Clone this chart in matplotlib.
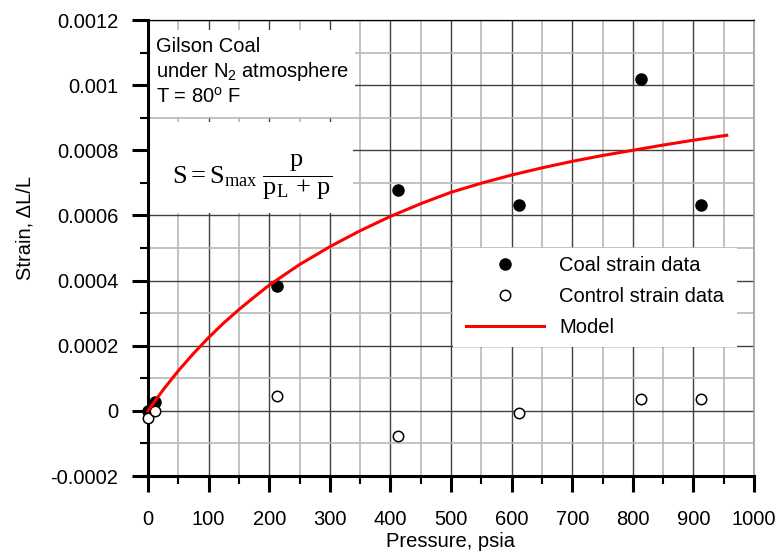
import numpy as np
import matplotlib
matplotlib.use("Agg")
import matplotlib.pyplot as plt
import matplotlib.patches as mpatches
from matplotlib.ticker import MultipleLocator

plt.rcParams['font.family'] = ['Liberation Sans', 'DejaVu Sans']
plt.rcParams['mathtext.fontset'] = 'custom'
plt.rcParams['mathtext.rm'] = 'Liberation Serif'
plt.rcParams['mathtext.it'] = 'Liberation Serif:italic'
plt.rcParams['mathtext.bf'] = 'Liberation Serif:bold'
plt.rcParams['mathtext.sf'] = 'Liberation Sans'

# data
coal_p = [0, 12, 213, 413, 613, 813, 913]
coal_strain = [0.0, 0.000027, 0.000382, 0.000678, 0.000633, 0.001019, 0.000633]

control_p = [0, 12, 213, 413, 613, 813, 913]
control_strain = [-0.000022, 0.000001, 0.000045, -0.000078, -0.000008, 0.000035, 0.000035]

# points
model_p = [0, 10, 25, 50, 75, 100, 125, 150, 175, 200, 250, 300, 350, 400, 450,
           500, 550, 600, 650, 700, 750, 800, 850, 900, 955]
model_strain = [0.0, 0.0000266, 0.0000645, 0.000123, 0.000176, 0.000225, 0.00027,
                0.000311, 0.000349, 0.000386, 0.000449, 0.000504, 0.000553,
                0.000597, 0.000636, 0.000671, 0.000699, 0.000724, 0.000746,
                0.000766, 0.000784, 0.0008, 0.000816, 0.000831, 0.000846]

x_ticks = list(range(0, 1001, 100))
y_ticks = [-0.0002, 0.0, 0.0002, 0.0004, 0.0006, 0.0008, 0.001, 0.0012]
y_labels = ['-0.0002', '0', '0.0002', '0.0004', '0.0006', '0.0008', '0.001', '0.0012']

fs = 14.5

fig = plt.figure(figsize=(7.8, 5.55), dpi=100)
ax = fig.add_axes([148/780, 1 - 476/555, 606/780, 456/555])

ax.set_xlim(0, 1000)
ax.set_ylim(-0.0002, 0.0012)
ax.set_xticks(x_ticks)
ax.set_yticks(y_ticks)
ax.set_yticklabels(y_labels)
ax.xaxis.set_minor_locator(MultipleLocator(50))
ax.yaxis.set_minor_locator(MultipleLocator(0.0001))

ax.set_axisbelow(True)
ax.grid(which='major', color='#404040', lw=1.0)
ax.grid(which='minor', color='#b8b8b8', lw=1.2)

ax.tick_params(which='major', direction='out', length=11.5, width=2.2, labelsize=fs)
ax.tick_params(which='minor', direction='out', length=6, width=1.5)
ax.tick_params(axis='x', which='major', pad=13)
ax.tick_params(axis='y', which='major', pad=10)
ax.tick_params(top=False, right=False, which='both')

ax.spines['left'].set_linewidth(2.2)
ax.spines['bottom'].set_linewidth(2.2)
ax.spines['top'].set_linewidth(0.9)
ax.spines['right'].set_linewidth(1.2)
ax.spines['right'].set_color('#a0a0a0')

# white boxes hiding the grid behind the annotations
for (x0, y0, w, h) in [(0, 0.000903, 341, 0.000267),
                       (0, 0.000608, 338, 0.000279),
                       (503, 0.000197, 469, 0.000304)]:
    ax.add_patch(mpatches.Rectangle((x0, y0), w, h, facecolor='white',
                                    edgecolor='none', zorder=1))

ax.plot(coal_p, coal_strain, 'o', color='black', ms=8, clip_on=False,
        zorder=3, label='Coal strain data')
ax.plot(control_p, control_strain, 'o', mfc='white', mec='black', mew=1.1,
        ms=7.5, clip_on=False, zorder=3, label='Control strain data')
ax.plot(model_p, model_strain, '-', color='#ff0000', lw=2.2, clip_on=False,
        zorder=4, label='Model')

leg = ax.legend(loc='upper left', bbox_to_anchor=(0.511, 0.5), frameon=False,
                fontsize=fs, handlelength=3.9, handletextpad=0.75,
                labelspacing=0.6, borderpad=0.4, borderaxespad=0)

ax.text(13, 0.0011005, 'Gilson Coal', fontsize=fs, va='baseline', zorder=5)
ax.text(13, 0.0010254, r'under N$_{\mathsf{2}}$ atmosphere', fontsize=fs,
        va='baseline', zorder=5)
ax.text(13, 0.0009458, r'T = 80$^{\mathsf{o}}$ F', fontsize=fs,
        va='baseline', zorder=5)
ax.text(40, 0.000717, r'$\mathrm{S = S_{max}\ \dfrac{p}{p_L\,+\,p}}$',
        fontsize=19, ha='left', va='center', zorder=5)

ax.set_xlabel('Pressure, psia', fontsize=fs, labelpad=2)
ax.set_ylabel('Strain, \u0394L/L', fontsize=fs)
ax.yaxis.set_label_coords(-0.188, 0.544)

fig.savefig('out.png', dpi=100)
